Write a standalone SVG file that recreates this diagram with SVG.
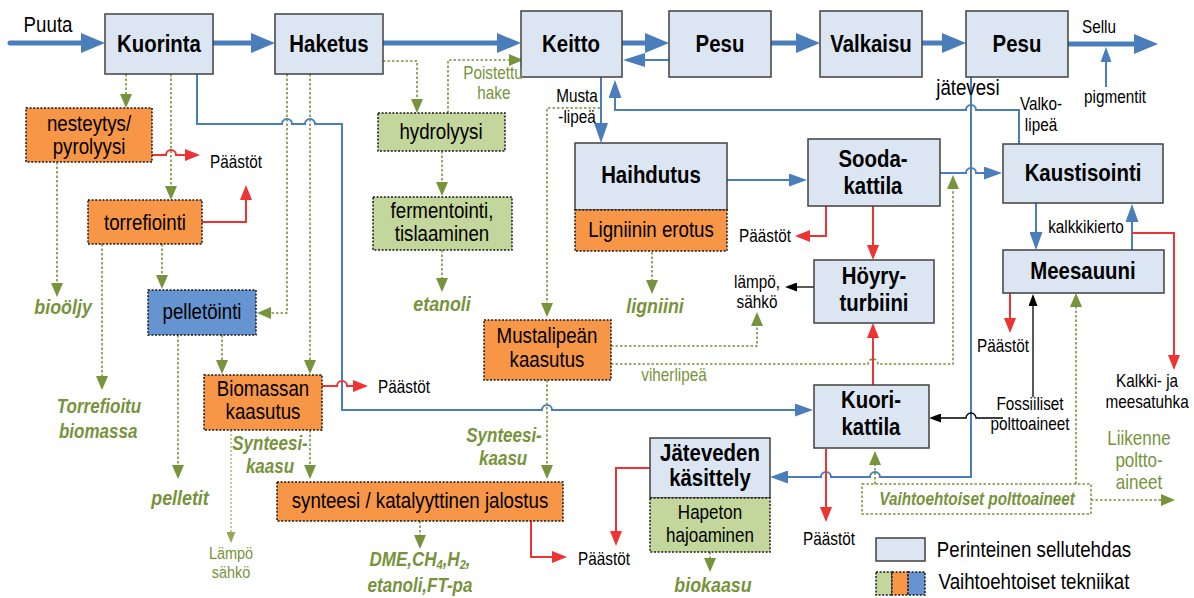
<svg xmlns="http://www.w3.org/2000/svg" width="1194" height="598" viewBox="0 0 1194 598">
  <style>
    .base { fill: #dce6f2; stroke: #404040; stroke-width: 1.5; }
    .alt { stroke: #1a1a1a; stroke-width: 1.5; stroke-dasharray: 2 1.6; }
    .or { fill: #f79646; }
    .gr { fill: #c3d69b; }
    .bl { fill: #6694d0; }
    .fuel { fill: #ffffff; stroke: #77933c; stroke-width: 1.5; stroke-dasharray: 2.5 2; }
    .tx { font-family: "Liberation Sans", Arial, sans-serif; text-anchor: middle; fill: #000;
          transform-box: fill-box; transform-origin: center; transform: scaleX(0.85); }
    .h { font-weight: 700; font-size: 24px; }
    .n22 { font-size: 22px; }
    .n21 { font-size: 21px; }
    .n20 { font-size: 20px; }
    .n18 { font-size: 18px; }
    .n17 { font-size: 17px; }
    .g { fill: #77933c; }
    .gi { fill: #77933c; font-style: italic; font-weight: 700; }
    .main { fill: none; stroke: #4a7ebb; stroke-width: 5; }
    .blue { fill: none; stroke: #4a7ebb; stroke-width: 2; }
    .dot { fill: none; stroke: #77933c; stroke-width: 1.6; stroke-dasharray: 2.5 2; }
    .dotl { fill: none; stroke: #8faa5a; stroke-width: 1.2; stroke-dasharray: 2 2; }
    .red { fill: none; stroke: #ee3333; stroke-width: 2; }
    .blk { fill: none; stroke: #000; stroke-width: 1.3; }
  </style>
  <defs>
    <marker id="aBig" markerUnits="userSpaceOnUse" markerWidth="24" markerHeight="20" refX="0" refY="10" orient="auto"><path d="M0,0 L24,10 L0,20 z" fill="#4a7ebb"/></marker>
    <marker id="aRet" markerUnits="userSpaceOnUse" markerWidth="22" markerHeight="14" refX="0" refY="7" orient="auto"><path d="M0,0 L22,7 L0,14 z" fill="#4a7ebb"/></marker>
    <marker id="aMid" markerUnits="userSpaceOnUse" markerWidth="20" markerHeight="14" refX="0" refY="7" orient="auto"><path d="M0,0 L20,7 L0,14 z" fill="#4a7ebb"/></marker>
    <marker id="aBlue" markerUnits="userSpaceOnUse" markerWidth="18" markerHeight="13" refX="0" refY="6.5" orient="auto"><path d="M0,0 L18,6.5 L0,13 z" fill="#4a7ebb"/></marker>
    <marker id="aBlueS" markerUnits="userSpaceOnUse" markerWidth="15" markerHeight="11" refX="0" refY="5.5" orient="auto"><path d="M0,0 L15,5.5 L0,11 z" fill="#4a7ebb"/></marker>
    <marker id="aGreen" markerUnits="userSpaceOnUse" markerWidth="14" markerHeight="12" refX="0" refY="6" orient="auto"><path d="M0,0 L14,6 L0,12 z" fill="#77933c"/></marker>
    <marker id="aGreenS" markerUnits="userSpaceOnUse" markerWidth="11" markerHeight="9" refX="0" refY="4.5" orient="auto"><path d="M0,0 L11,4.5 L0,9 z" fill="#8faa5a"/></marker>
    <marker id="aRed" markerUnits="userSpaceOnUse" markerWidth="15" markerHeight="12" refX="0" refY="6" orient="auto"><path d="M0,0 L15,6 L0,12 z" fill="#ee3333"/></marker>
    <marker id="aBlack" markerUnits="userSpaceOnUse" markerWidth="12" markerHeight="9" refX="0" refY="4.5" orient="auto"><path d="M0,0 L12,4.5 L0,9 z" fill="#000"/></marker>
  </defs>

  <rect width="1194" height="598" fill="#ffffff"/>

  <!-- connectors -->
  <g id="connectors">
    <!-- main fibre line -->
    <path class="main" d="M10,43 H81" stroke-linecap="round" marker-end="url(#aBig)"/>
    <path class="main" d="M213,43 H251" marker-end="url(#aBig)"/>
    <path class="main" d="M383,43 H497" marker-end="url(#aBig)"/>
    <path class="main" d="M622,43 H645" marker-end="url(#aBig)"/>
    <path class="main" d="M771,43 H796" marker-end="url(#aBig)"/>
    <path class="main" d="M922,43 H942" marker-end="url(#aBig)"/>
    <path class="main" d="M1068,44 H1134" marker-end="url(#aBig)"/>
    <path class="blue" stroke-width="3.5" d="M669,60 H645" marker-end="url(#aRet)"/>
    <path class="blue" d="M1106,87 V62" marker-end="url(#aBlueS)"/>

    <!-- liquor and water circulation -->
    <path class="blue" stroke-width="3" d="M601,77 V123" marker-end="url(#aMid)"/>
    <path class="blue" d="M1019,144 V110 H976 a5,5 0 0 0 -10,0 H615 V98" marker-end="url(#aBlue)"/>
    <path class="blue" stroke-width="1.5" d="M727,180 H789" marker-end="url(#aBlue)"/>
    <path class="blue" d="M940,173 H966 a5,5 0 0 1 10,0 H984" marker-end="url(#aBlue)"/>
    <path class="blue" d="M1036,203 V232" marker-end="url(#aBlue)"/>
    <path class="blue" d="M1132,250 V222" marker-end="url(#aBlue)"/>
    <path class="blue" d="M971,77 V477 H880 a5,5 0 0 0 -10,0 H831 a5,5 0 0 0 -10,0 H788" marker-end="url(#aBlue)"/>
    <path class="blue" d="M197,74 V124 H282 a5,5 0 0 1 10,0 H305 a5,5 0 0 1 10,0 H342 V410 H542 a5,5 0 0 1 10,0 H795" marker-end="url(#aBlue)"/>

    <!-- alternative technology flows -->
    <path class="dot" d="M126,74 V94" marker-end="url(#aGreen)"/>
    <path class="dot" d="M171,74 V186" marker-end="url(#aGreen)"/>
    <path class="dot" d="M57,162 V283" marker-end="url(#aGreen)"/>
    <path class="dot" d="M102,244 V376" marker-end="url(#aGreen)"/>
    <path class="dot" d="M162,244 V275" marker-end="url(#aGreen)"/>
    <path class="dot" d="M287,74 V313 H271" marker-end="url(#aGreen)"/>
    <path class="dot" d="M310,74 V360" marker-end="url(#aGreen)"/>
    <path class="dot" d="M383,61 H417 V99" marker-end="url(#aGreen)"/>
    <path class="dot" d="M448,113 V60 H509" marker-end="url(#aGreen)"/>
    <path class="dot" d="M442,151 V182" marker-end="url(#aGreen)"/>
    <path class="dot" d="M442,250 V278" marker-end="url(#aGreen)"/>
    <path class="dot" d="M652,252 V280" marker-end="url(#aGreen)"/>
    <path class="dot" d="M178,335 V465" marker-end="url(#aGreen)"/>
    <path class="dot" d="M222,335 V360" marker-end="url(#aGreen)"/>
    <path class="dotl" d="M231,430 V532" marker-end="url(#aGreenS)"/>
    <path class="dot" d="M310,430 V465" marker-end="url(#aGreen)"/>
    <path class="dot" d="M600,108 H547 V303" marker-end="url(#aGreen)"/>
    <path class="dot" d="M547,380 V465" marker-end="url(#aGreen)"/>
    <path class="dot" d="M611,346 H757 V326" marker-end="url(#aGreen)"/>
    <path class="dot" d="M611,364 H868 a5,5 0 0 1 10,0 H953 V189" marker-end="url(#aGreen)"/>
    <path class="dot" d="M420,521 V535" marker-end="url(#aGreen)"/>
    <path class="dot" d="M710,552 V558" marker-end="url(#aGreen)"/>
    <path class="dot" d="M875,484 V465" marker-end="url(#aGreen)"/>
    <path class="dot" d="M1076,484 V307" marker-end="url(#aGreen)"/>
    <path class="dot" d="M1091,500 H1161" marker-end="url(#aGreen)"/>

    <!-- emissions -->
    <path class="red" d="M152,155 H166 a5,5 0 0 1 10,0 H185" marker-end="url(#aRed)"/>
    <path class="red" d="M202,222 H246 V200" marker-end="url(#aRed)"/>
    <path class="red" d="M322,386 H337 a5,5 0 0 1 10,0 H353" marker-end="url(#aRed)"/>
    <path class="red" d="M531,521 V557 H552" marker-end="url(#aRed)"/>
    <path class="red" d="M650,468 H616 V531" marker-end="url(#aRed)"/>
    <path class="red" d="M826,206 V236 H810" marker-end="url(#aRed)"/>
    <path class="red" d="M873,206 V245" marker-end="url(#aRed)"/>
    <path class="red" d="M873,385 V338" marker-end="url(#aRed)"/>
    <path class="red" d="M826,449 V507" marker-end="url(#aRed)"/>
    <path class="red" d="M1010,293 V318" marker-end="url(#aRed)"/>
    <path class="red" d="M1132,233 H1174 V355" marker-end="url(#aRed)"/>

    <!-- energy and fossil fuels -->
    <path class="blk" d="M814,287 H797" marker-end="url(#aBlack)"/>
    <path class="blk" d="M1033,397 V306" marker-end="url(#aBlack)"/>
    <path class="blk" d="M1003,418 H976 a5,5 0 0 0 -10,0 H941" marker-end="url(#aBlack)"/>
  </g>

  <!-- main process line -->
  <g id="kuorinta"><rect class="base" x="105" y="14" width="108" height="60"/><text class="tx h" x="159" y="52">Kuorinta</text></g>
  <g id="haketus"><rect class="base" x="275" y="14" width="108" height="60"/><text class="tx h" x="329" y="52">Haketus</text></g>
  <g id="keitto"><rect class="base" x="521" y="11" width="101" height="66"/><text class="tx h" x="571" y="52">Keitto</text></g>
  <g id="pesu1"><rect class="base" x="669" y="11" width="102" height="66"/><text class="tx h" x="720" y="52">Pesu</text></g>
  <g id="valkaisu"><rect class="base" x="820" y="11" width="102" height="66"/><text class="tx h" x="871" y="52">Valkaisu</text></g>
  <g id="pesu2"><rect class="base" x="966" y="11" width="102" height="66"/><text class="tx h" x="1017" y="52">Pesu</text></g>

  <!-- chemical recovery -->
  <g id="haihdutus">
    <rect class="base" x="575" y="143" width="152" height="67"/>
    <text class="tx h" x="651" y="183">Haihdutus</text>
    <rect class="alt or" x="575" y="210" width="152" height="41"/>
    <text class="tx n22" x="651" y="237">Ligniinin erotus</text>
  </g>
  <g id="soodakattila"><rect class="base" x="808" y="139" width="132" height="67"/><text class="tx h" x="873"><tspan x="873" y="167">Sooda-</tspan><tspan x="873" y="194">kattila</tspan></text></g>
  <g id="kaustisointi"><rect class="base" x="1003" y="144" width="160" height="59"/><text class="tx h" x="1083" y="181">Kaustisointi</text></g>
  <g id="meesauuni"><rect class="base" x="1003" y="250" width="161" height="43"/><text class="tx h" x="1083" y="279">Meesauuni</text></g>
  <g id="hoyryturbiini"><rect class="base" x="814" y="260" width="120" height="63"/><text class="tx h" x="874"><tspan x="874" y="284">Höyry-</tspan><tspan x="874" y="311">turbiini</tspan></text></g>
  <g id="kuorikattila"><rect class="base" x="814" y="385" width="115" height="63"/><text class="tx h" x="871"><tspan x="871" y="408">Kuori-</tspan><tspan x="871" y="435">kattila</tspan></text></g>
  <g id="jatevesi">
    <rect class="base" x="650" y="438" width="120" height="60"/>
    <text class="tx h" x="710"><tspan x="710" y="461">Jäteveden</tspan><tspan x="710" y="486">käsittely</tspan></text>
    <rect class="alt gr" x="650" y="498" width="120" height="54"/>
    <text class="tx n20" x="710"><tspan x="710" y="519">Hapeton</tspan><tspan x="710" y="542">hajoaminen</tspan></text>
  </g>

  <!-- alternative technologies -->
  <g id="nesteytys"><rect class="alt or" x="26" y="108" width="126" height="54"/><text class="tx n22" x="89"><tspan x="89" y="131">nesteytys/</tspan><tspan x="89" y="154">pyrolyysi</tspan></text></g>
  <g id="torrefiointi"><rect class="alt or" x="88" y="200" width="114" height="44"/><text class="tx n22" x="145" y="230">torrefiointi</text></g>
  <g id="pelletointi"><rect class="alt bl" x="148" y="290" width="108" height="45"/><text class="tx n22" x="202" y="319">pelletöinti</text></g>
  <g id="biomassan-kaasutus"><rect class="alt or" x="204" y="375" width="118" height="55"/><text class="tx n22" x="263"><tspan x="263" y="396">Biomassan</tspan><tspan x="263" y="419">kaasutus</tspan></text></g>
  <g id="synteesi"><rect class="alt or" x="277" y="482" width="286" height="39"/><text class="tx n22" x="420" y="508">synteesi / katalyyttinen jalostus</text></g>
  <g id="hydrolyysi"><rect class="alt gr" x="378" y="113" width="127" height="38"/><text class="tx n22" x="441" y="139">hydrolyysi</text></g>
  <g id="fermentointi"><rect class="alt gr" x="373" y="197" width="139" height="53"/><text class="tx n22" x="442"><tspan x="442" y="218">fermentointi,</tspan><tspan x="442" y="241">tislaaminen</tspan></text></g>
  <g id="mustalipean-kaasutus"><rect class="alt or" x="484" y="320" width="127" height="60"/><text class="tx n22" x="547"><tspan x="547" y="343">Mustalipeän</tspan><tspan x="547" y="367">kaasutus</tspan></text></g>
  <g id="vaihtoehtoiset-polttoaineet"><rect class="fuel" x="862" y="484" width="229" height="30"/><text class="tx n18 gi" x="977" y="505">Vaihtoehtoiset polttoaineet</text></g>

  <!-- flow labels -->
  <g id="labels">
    <text class="tx n22" x="48" y="32">Puuta</text>
    <text class="tx n18" x="1099" y="33">Sellu</text>
    <text class="tx n18" x="1115" y="103">pigmentit</text>
    <text class="tx n22" x="968" y="95">jätevesi</text>
    <text class="tx n18" x="1041"><tspan x="1041" y="110">Valko-</tspan><tspan x="1041" y="131">lipeä</tspan></text>
    <text class="tx n18 g" x="493"><tspan x="493" y="79">Poistettu</tspan><tspan x="494" y="99">hake</tspan></text>
    <text class="tx n18" x="577"><tspan x="577" y="102">Musta</tspan><tspan x="577" y="123">-lipeä</tspan></text>
    <text class="tx n18" x="236" y="168">Päästöt</text>
    <text class="tx n18" x="404" y="393">Päästöt</text>
    <text class="tx n18" x="604" y="565">Päästöt</text>
    <text class="tx n18" x="765" y="242">Päästöt</text>
    <text class="tx n18" x="829" y="545">Päästöt</text>
    <text class="tx n18" x="1003" y="352">Päästöt</text>
    <text class="tx n18" x="757"><tspan x="757" y="288">lämpö,</tspan><tspan x="757" y="308">sähkö</tspan></text>
    <text class="tx n18 g" x="674" y="381">viherlipeä</text>
    <text class="tx n18" x="1086" y="233">kalkkikierto</text>
    <text class="tx n18" x="1147"><tspan x="1147" y="387">Kalkki- ja</tspan><tspan x="1147" y="408">meesatuhka</tspan></text>
    <text class="tx n18" x="1030"><tspan x="1030" y="410">Fossiiliset</tspan><tspan x="1030" y="430">polttoaineet</tspan></text>
    <text class="tx n20 g" x="1139"><tspan x="1139" y="445">Liikenne</tspan><tspan x="1139" y="467">poltto-</tspan><tspan x="1139" y="489">aineet</tspan></text>
    <text class="tx n17 g" x="231"><tspan x="231" y="559">Lämpö</tspan><tspan x="231" y="578">sähkö</tspan></text>

    <!-- products -->
    <text class="tx n21 gi" x="63" y="314">bioöljy</text>
    <text class="tx n20 gi" x="99"><tspan x="99" y="413">Torrefioitu</tspan><tspan x="98" y="438">biomassa</tspan></text>
    <text class="tx n21 gi" x="180" y="505">pelletit</text>
    <text class="tx n21 gi" x="442" y="311">etanoli</text>
    <text class="tx n21 gi" x="655" y="313">ligniini</text>
    <text class="tx n20 gi" x="270"><tspan x="270" y="450">Synteesi-</tspan><tspan x="270" y="473">kaasu</tspan></text>
    <text class="tx n20 gi" x="504"><tspan x="504" y="442">Synteesi-</tspan><tspan x="503" y="465">kaasu</tspan></text>
    <text class="tx n20 gi" x="420" y="566">DME,CH<tspan font-size="13" dy="3">4</tspan><tspan dy="-3">,H</tspan><tspan font-size="13" dy="3">2</tspan><tspan dy="-3">,</tspan></text>
    <text class="tx n20 gi" x="420" y="592">etanoli,FT-pa</text>
    <text class="tx n21 gi" x="713" y="592">biokaasu</text>
  </g>

  <!-- legend -->
  <g id="legend">
    <rect class="base" x="876" y="538" width="49" height="23"/>
    <text class="tx n22" x="1034" y="557">Perinteinen sellutehdas</text>
    <rect class="alt gr" x="876" y="572" width="16" height="23"/>
    <rect class="alt or" x="892" y="572" width="16" height="23"/>
    <rect class="alt bl" x="908" y="572" width="17" height="23"/>
    <text class="tx n22" x="1034" y="589">Vaihtoehtoiset tekniikat</text>
  </g>
</svg>
